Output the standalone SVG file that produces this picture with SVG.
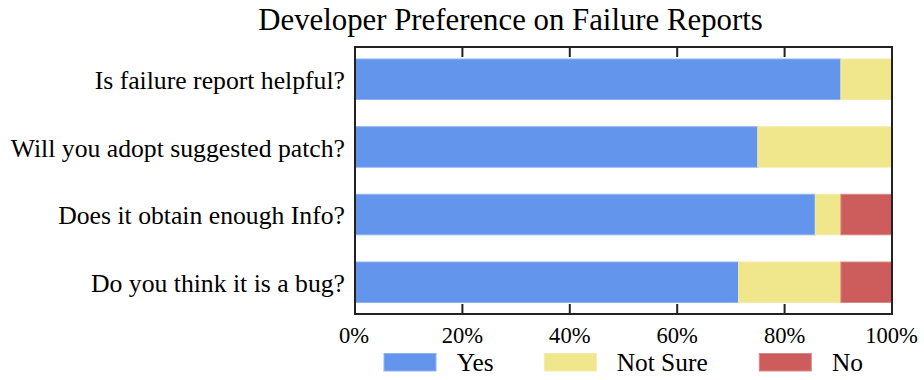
<svg xmlns="http://www.w3.org/2000/svg" width="924" height="380" viewBox="0 0 924 380">
<style>
text{font-family:"Liberation Serif","Times New Roman",serif;fill:#000}
.t{font-size:30.8px;text-anchor:middle}
.l{font-size:25.7px;text-anchor:end}
.k{font-size:22.6px;text-anchor:middle}
.g{font-size:25.4px}
.yes{fill:#6495ED;stroke:#8fb1f0;stroke-width:1}
.ns{fill:#F0E68C;stroke:#f3eba8;stroke-width:1}
.no{fill:#CD5C5C;stroke:#db8787;stroke-width:1}
.ax{fill:none;stroke:#222;stroke-width:2}
.tk{stroke:#222;stroke-width:2}
</style>
<rect width="924" height="380" fill="#fff"/>
<text class="t" x="510.5" y="30">Developer Preference on Failure Reports</text>
<g id="bar1">
<rect class="yes" x="355" y="59" width="485.9" height="40.5"/>
<rect class="ns" x="840.9" y="59" width="51.1" height="40.5"/>
<text class="l" x="345" y="89">Is failure report helpful?</text>
</g>
<g id="bar2">
<rect class="yes" x="355" y="126.7" width="402.8" height="40.5"/>
<rect class="ns" x="757.8" y="126.7" width="134.2" height="40.5"/>
<text class="l" x="345" y="156.5">Will you adopt suggested patch?</text>
</g>
<g id="bar3">
<rect class="yes" x="355" y="194.3" width="460.3" height="40.5"/>
<rect class="ns" x="815.3" y="194.3" width="25.6" height="40.5"/>
<rect class="no" x="840.9" y="194.3" width="51.1" height="40.5"/>
<text class="l" x="345" y="224">Does it obtain enough Info?</text>
</g>
<g id="bar4">
<rect class="yes" x="355" y="262" width="383.6" height="40.5"/>
<rect class="ns" x="738.6" y="262" width="102.3" height="40.5"/>
<rect class="no" x="840.9" y="262" width="51.1" height="40.5"/>
<text class="l" x="345" y="291.5">Do you think it is a bug?</text>
</g>
<g id="axes">
<rect class="ax" x="355" y="47" width="537" height="267"/>
<path class="tk" d="M462.4 47v10M569.8 47v10M677.2 47v10M784.6 47v10M462.4 314v-10M569.8 314v-10M677.2 314v-10M784.6 314v-10"/>
<text class="k" x="354" y="343">0%</text>
<text class="k" x="462.4" y="343">20%</text>
<text class="k" x="569.8" y="343">40%</text>
<text class="k" x="677.2" y="343">60%</text>
<text class="k" x="784.6" y="343">80%</text>
<text class="k" x="891.5" y="343">100%</text>
</g>
<g id="legend">
<rect class="yes" x="384" y="353.5" width="52" height="17.5"/>
<text class="g" x="456.7" y="371">Yes</text>
<rect class="ns" x="544.3" y="353.5" width="52" height="17.5"/>
<text class="g" x="616.7" y="371">Not Sure</text>
<rect class="no" x="759.3" y="353.5" width="52" height="17.5"/>
<text class="g" x="832" y="371">No</text>
</g>
</svg>
